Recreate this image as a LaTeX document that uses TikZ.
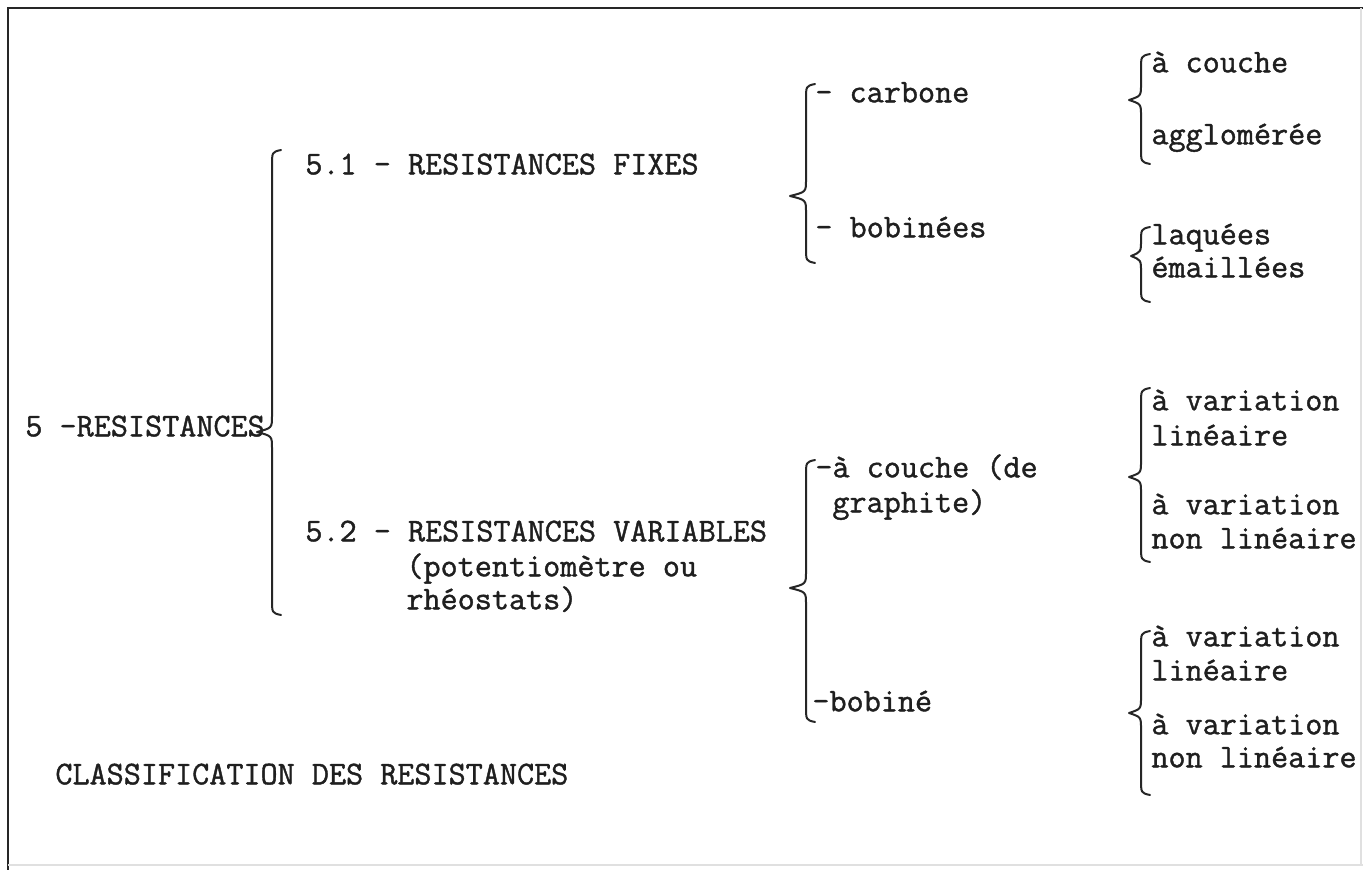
\documentclass[tikz,border=0pt]{standalone}
\usepackage{fontspec}
\newfontfamily\twfont{Latin Modern Mono}[FakeBold=1.2]
\usetikzlibrary{calc}
\newcommand\mybrace[5]{% #1 line x, #2 tip x, #3 top y, #4 tip y, #5 bottom y
  \draw[bracestyle] ($(#1,#3)+(9,-2)$) .. controls (#1,#3) .. ($(#1,#3)+(0,14)$)
    -- ($(#1,#4)+(0,-16)$) .. controls ($(#1,#4)+(0,-4)$) .. (#2,#4)
    .. controls ($(#1,#4)+(0,4)$) .. ($(#1,#4)+(0,16)$)
    -- ($(#1,#5)+(0,-14)$) .. controls (#1,#5) .. ($(#1,#5)+(9,2)$);}
\tikzset{
  lbl/.style={anchor=mid west, inner sep=0pt, font=\twfont\fontsize{16.6pt}{19pt}\selectfont, text=black!88},
  bracestyle/.style={draw=black!85, line width=1pt, line cap=round, line join=round},
  frame/.style={draw=black!85, line width=1.4pt},
  faint/.style={draw=black!12, line width=0.6pt}
}
\begin{document}
\begin{tikzpicture}[x=0.5pt,y=-0.5pt]
\useasboundingbox (0,0) rectangle (1363,870);
\fill[white] (0,0) rectangle (1363,870);
% frame
\coordinate (ftl) at (8,8);
\coordinate (ftr) at (1363,8);
\coordinate (fbl) at (8,870);
\draw[frame] (ftr) -- (ftl) -- (fbl);
\draw[faint] (8,865) -- (1363,865);
\draw[faint] (1361,8) -- (1361,865);

% level 0
\node[lbl] (n5) at (25,432) {5 -RESISTANCES};
\mybrace{272}{257}{152}{432}{613}

% level 1
\node[lbl] (n51) at (305,170) {5.1 - RESISTANCES FIXES};
\node[lbl] (n52) at (305,537) {5.2 - RESISTANCES VARIABLES};
\node[lbl] (n52b) at (406,572) {(potentiomètre ou};
\node[lbl] (n52c) at (406,605) {rhéostats)};

% level 2 (fixes)
\mybrace{806}{790}{86}{196}{261}
\node[lbl] (carb) at (815,98) {- carbone};
\node[lbl] (bobs) at (815,233) {- bobinées};

% level 2 (variables)
\mybrace{806}{790}{462}{588}{720}
\node[lbl] (couche) at (815,473) {-à couche (de};
\node[lbl] (graph) at (832,508) {graphite)};
\node[lbl] (bob) at (812,707) {-bobiné};

% level 3
\mybrace{1141}{1129}{56}{100}{162}
\node[lbl] (acouche) at (1151,68) {à couche};
\node[lbl] (aggl) at (1151,140) {agglomérée};

\mybrace{1141}{1131}{229}{256}{300}
\node[lbl] (laq) at (1151,240) {laquées};
\node[lbl] (ema) at (1151,273) {émaillées};

\mybrace{1141}{1129}{390}{477}{560}
\node[lbl] (v1) at (1151,406) {à variation};
\node[lbl] (v1b) at (1151,441) {linéaire};
\node[lbl] (v2) at (1151,510) {à variation};
\node[lbl] (v2b) at (1151,544) {non linéaire};

\mybrace{1141}{1129}{633}{713}{793}
\node[lbl] (v3) at (1151,642) {à variation};
\node[lbl] (v3b) at (1151,676) {linéaire};
\node[lbl] (v4) at (1151,730) {à variation};
\node[lbl] (v4b) at (1151,763) {non linéaire};

% caption
\node[lbl] (cap) at (55,780) {CLASSIFICATION DES RESISTANCES};
\end{tikzpicture}
\end{document}
